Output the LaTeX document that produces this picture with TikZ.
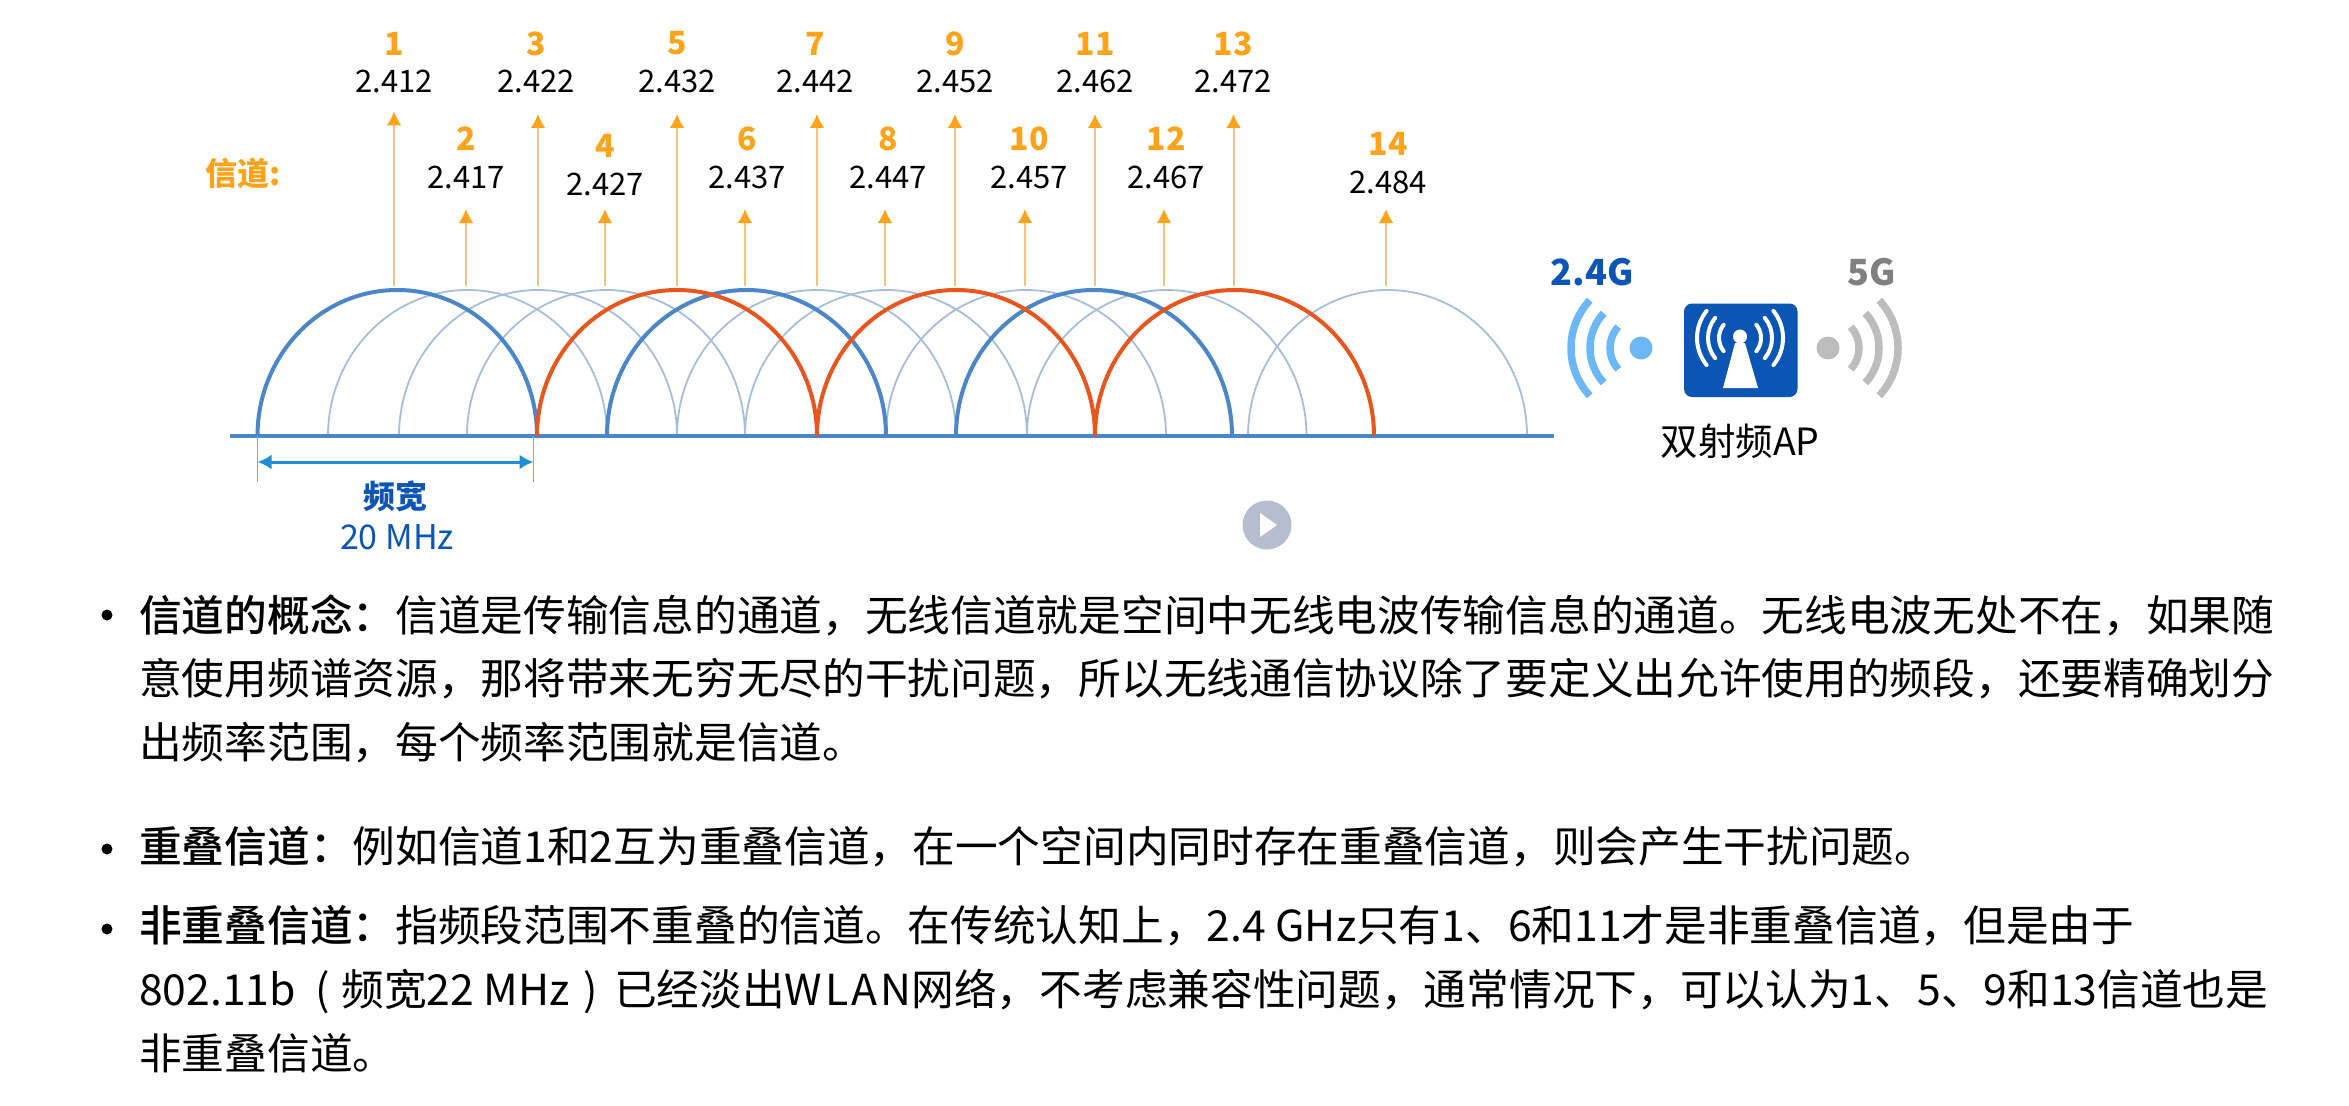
\documentclass[tikz,border=0pt]{standalone}
\usepackage{fontspec}
\setmainfont{Noto Sans CJK SC}[BoldFont={Noto Sans CJK SC Medium}]
\newfontfamily\labelfont{Noto Sans CJK SC}
\usetikzlibrary{arrows.meta}
\definecolor{domeblue}{HTML}{4A86C8}
\definecolor{domethin}{HTML}{A6BEDC}
\definecolor{domered}{HTML}{E8561E}
\definecolor{chanorange}{HTML}{FFA31A}
\definecolor{stemorange}{HTML}{F3C27E}
\definecolor{apblue}{HTML}{0B55B5}
\definecolor{spanblue}{HTML}{1E8FD5}
\definecolor{wavelight}{HTML}{6CB8F6}
\definecolor{wavegray}{HTML}{BDBDBD}
\definecolor{playgray}{HTML}{B5BDCF}
\tikzset{
  chnum/.style={font=\fontsize{32}{32}\selectfont\labelfont\bfseries,text=chanorange,inner sep=0pt},
  chval/.style={font=\fontsize{31}{31}\selectfont,text=black,inner sep=0pt},
  chup/.style={draw=stemorange,line width=2pt,-{Latex[length=14pt,width=15pt,color=chanorange]}},
  thindome/.style={draw=domethin,line width=1.8pt},
  bluedome/.style={draw=domeblue,line width=4pt},
  reddome/.style={draw=domered,line width=4pt},
  bodyline/.style={font=\fontsize{42.7}{42.7}\selectfont,text=black,anchor=base west,inner sep=0pt},
  bulletdot/.style={circle,fill=black,inner sep=0pt,minimum size=11pt},
  wave/.style={line width=7.5pt},
  mast/.style={white,line width=4pt,line cap=round}
}
\begin{document}
\begin{tikzpicture}[x=1pt,y=1pt]
\useasboundingbox (0,0) rectangle (2349,-1105);

% Height of the domes and the axis
\def\axis{-436}
\def\domeh{146}

% Thin channels
\foreach \l/\r in {328/607,399/677,467/745,677/956,745/1027,886/1166,1027/1306.5,1248/1527}
  \draw[thindome] (\l,\axis) arc[start angle=180, end angle=0, x radius={(\r-\l)/2}, y radius=\domeh];

% Axis
\draw[domeblue,line width=4pt] (230,\axis) -- (1554,\axis);

% Non overlapping channels
\foreach \l/\r in {257.5/537,607/886,956/1232}
  \draw[bluedome] (\l,\axis) arc[start angle=180, end angle=0, x radius={(\r-\l)/2}, y radius=\domeh];
\foreach \l/\r in {537/817,817/1095,1095/1374}
  \draw[reddome] (\l,\axis) arc[start angle=180, end angle=0, x radius={(\r-\l)/2}, y radius=\domeh];

% Channel arrows
\foreach \n/\x/\tip in {1/394/-111.5,2/466/-209,3/538/-114,4/605/-209,5/677/-114,6/745/-209,7/817/-114,8/885/-209,9/955/-114,10/1025/-209,11/1095/-114,12/1164/-209,13/1233.5/-114,14/1386/-209} {
  \coordinate (foot\n) at (\x,-286);
  \coordinate (tip\n) at (\x,\tip);
  \draw[chup] (foot\n) -- (tip\n);
}

% Channel labels
\foreach \n/\f/\x/\yn/\yv in {1/2.412/394/-43.5/-81.5,2/2.417/466/-139/-177.5,3/2.422/536/-43.5/-81.5,4/2.427/605/-146/-184,5/2.432/677/-43.5/-81.5,6/2.437/747/-139/-177.5,7/2.442/815/-43.5/-81.5,8/2.447/888/-139/-177.5,9/2.452/955/-43.5/-81.5,10/2.457/1029/-139/-177.5,11/2.462/1095/-43.5/-81.5,12/2.467/1166/-139/-177.5,13/2.472/1233/-43.5/-81.5,14/2.484/1388/-143.5/-182} {
  \node[chnum] (num\n) at (\x,\yn) {\n};
  \node[chval] (val\n) at (\x,\yv) {\f};
}
\node[chnum,anchor=west] (chan) at (205,-173) {信道:};

% Bandwidth
\coordinate (spanl) at (257.5,\axis);
\coordinate (spanr) at (533.5,\axis);
\coordinate (spanlb) at (257.5,-482);
\coordinate (spanrb) at (533.5,-482);
\coordinate (spanla) at (257.5,-462);
\coordinate (spanra) at (533.5,-462);
\draw[spanblue!70,line width=1.8pt] (spanl) -- (spanlb);
\draw[spanblue!70,line width=1.8pt] (spanr) -- (spanrb);
\draw[spanblue,line width=3pt,{Latex[length=14pt,width=15pt]}-{Latex[length=14pt,width=15pt]}] (spanla) -- (spanra);
\node[font=\fontsize{32}{32}\selectfont\labelfont\bfseries,text=apblue,inner sep=0pt] (width) at (395,-496) {频宽};
\node[font=\fontsize{34}{34}\selectfont,text=apblue,inner sep=0pt] (mhz) at (397,-537) {20 MHz};

% Dual band AP
\node[font=\fontsize{36}{36}\selectfont\labelfont\bfseries,text=apblue,inner sep=0pt] (lowband) at (1592,-272) {2.4G};
\node[font=\fontsize{36}{36}\selectfont\labelfont\bfseries,text=black!50,inner sep=0pt] (highband) at (1872,-272) {5G};
\node[font=\fontsize{37.5}{37.5}\selectfont,text=black,inner sep=0pt] (ap) at (1740,-441) {双射频AP};
\fill[apblue,rounded corners=8pt] (1684,-303.5) rectangle (1797.5,-397);

% Waves
\fill[wavelight] (1641,-348) circle (11.5);
\fill[wavegray] (1828,-348) circle (11.5);
\foreach \r in {31,51,70} {
  \draw[wave,draw=wavelight] (1641,-348) ++(137:\r) arc[start angle=137, end angle=223, radius=\r];
  \draw[wave,draw=wavegray] (1828,-348) ++(43:\r) arc[start angle=43, end angle=-43, radius=\r];
}

% Antenna in the box
\fill[white] (1740,-336.5) circle (7);
\fill[white] (1735,-343) -- (1745,-343) -- (1758,-388) -- (1723,-388) -- cycle;
\foreach \r in {21,32,43} {
  \draw[mast] (1740,-338) ++(141:\r) arc[start angle=141, end angle=219, radius=\r];
  \draw[mast] (1740,-338) ++(39:\r) arc[start angle=39, end angle=-39, radius=\r];
}

% Play button
\fill[playgray] (1267,-525) circle (24.5);
\fill[white] (1260,-513) -- (1277,-525) -- (1260,-537) -- cycle;

% Text
\foreach \y in {-615,-849,-929}
  \node[bulletdot] at (107,\y) {};
\node[bodyline] (lineA) at (139,-631) {\textbf{信道的概念：}信道是传输信息的通道，无线信道就是空间中无线电波传输信息的通道。无线电波无处不在，如果随};
\node[bodyline] (lineB) at (139,-694.5) {意使用频谱资源，那将带来无穷无尽的干扰问题，所以无线通信协议除了要定义出允许使用的频段，还要精确划分};
\node[bodyline] (lineC) at (139,-758) {出频率范围，每个频率范围就是信道。};
\node[bodyline] (lineD) at (139,-862) {\textbf{重叠信道：}例如信道1和2互为重叠信道，在一个空间内同时存在重叠信道，则会产生干扰问题。};
\node[bodyline] (lineE) at (139,-941.5) {\textbf{非重叠信道：}指频段范围不重叠的信道。在传统认知上，2.4 GHz只有1、6和11才是非重叠信道，但是由于};
\node[bodyline] (lineF) at (139,-1005) {802.11b\hspace{20pt}(\hspace{11pt}频宽22 MHz\hspace{14pt})\hspace{16pt}已经淡出W\kern3pt L\kern3pt A\kern3pt N网络，不考虑兼容性问题，通常情况下，可以认为1、5、9和13信道也是};
\node[bodyline] (lineG) at (139,-1069) {非重叠信道。};
\end{tikzpicture}
\end{document}
